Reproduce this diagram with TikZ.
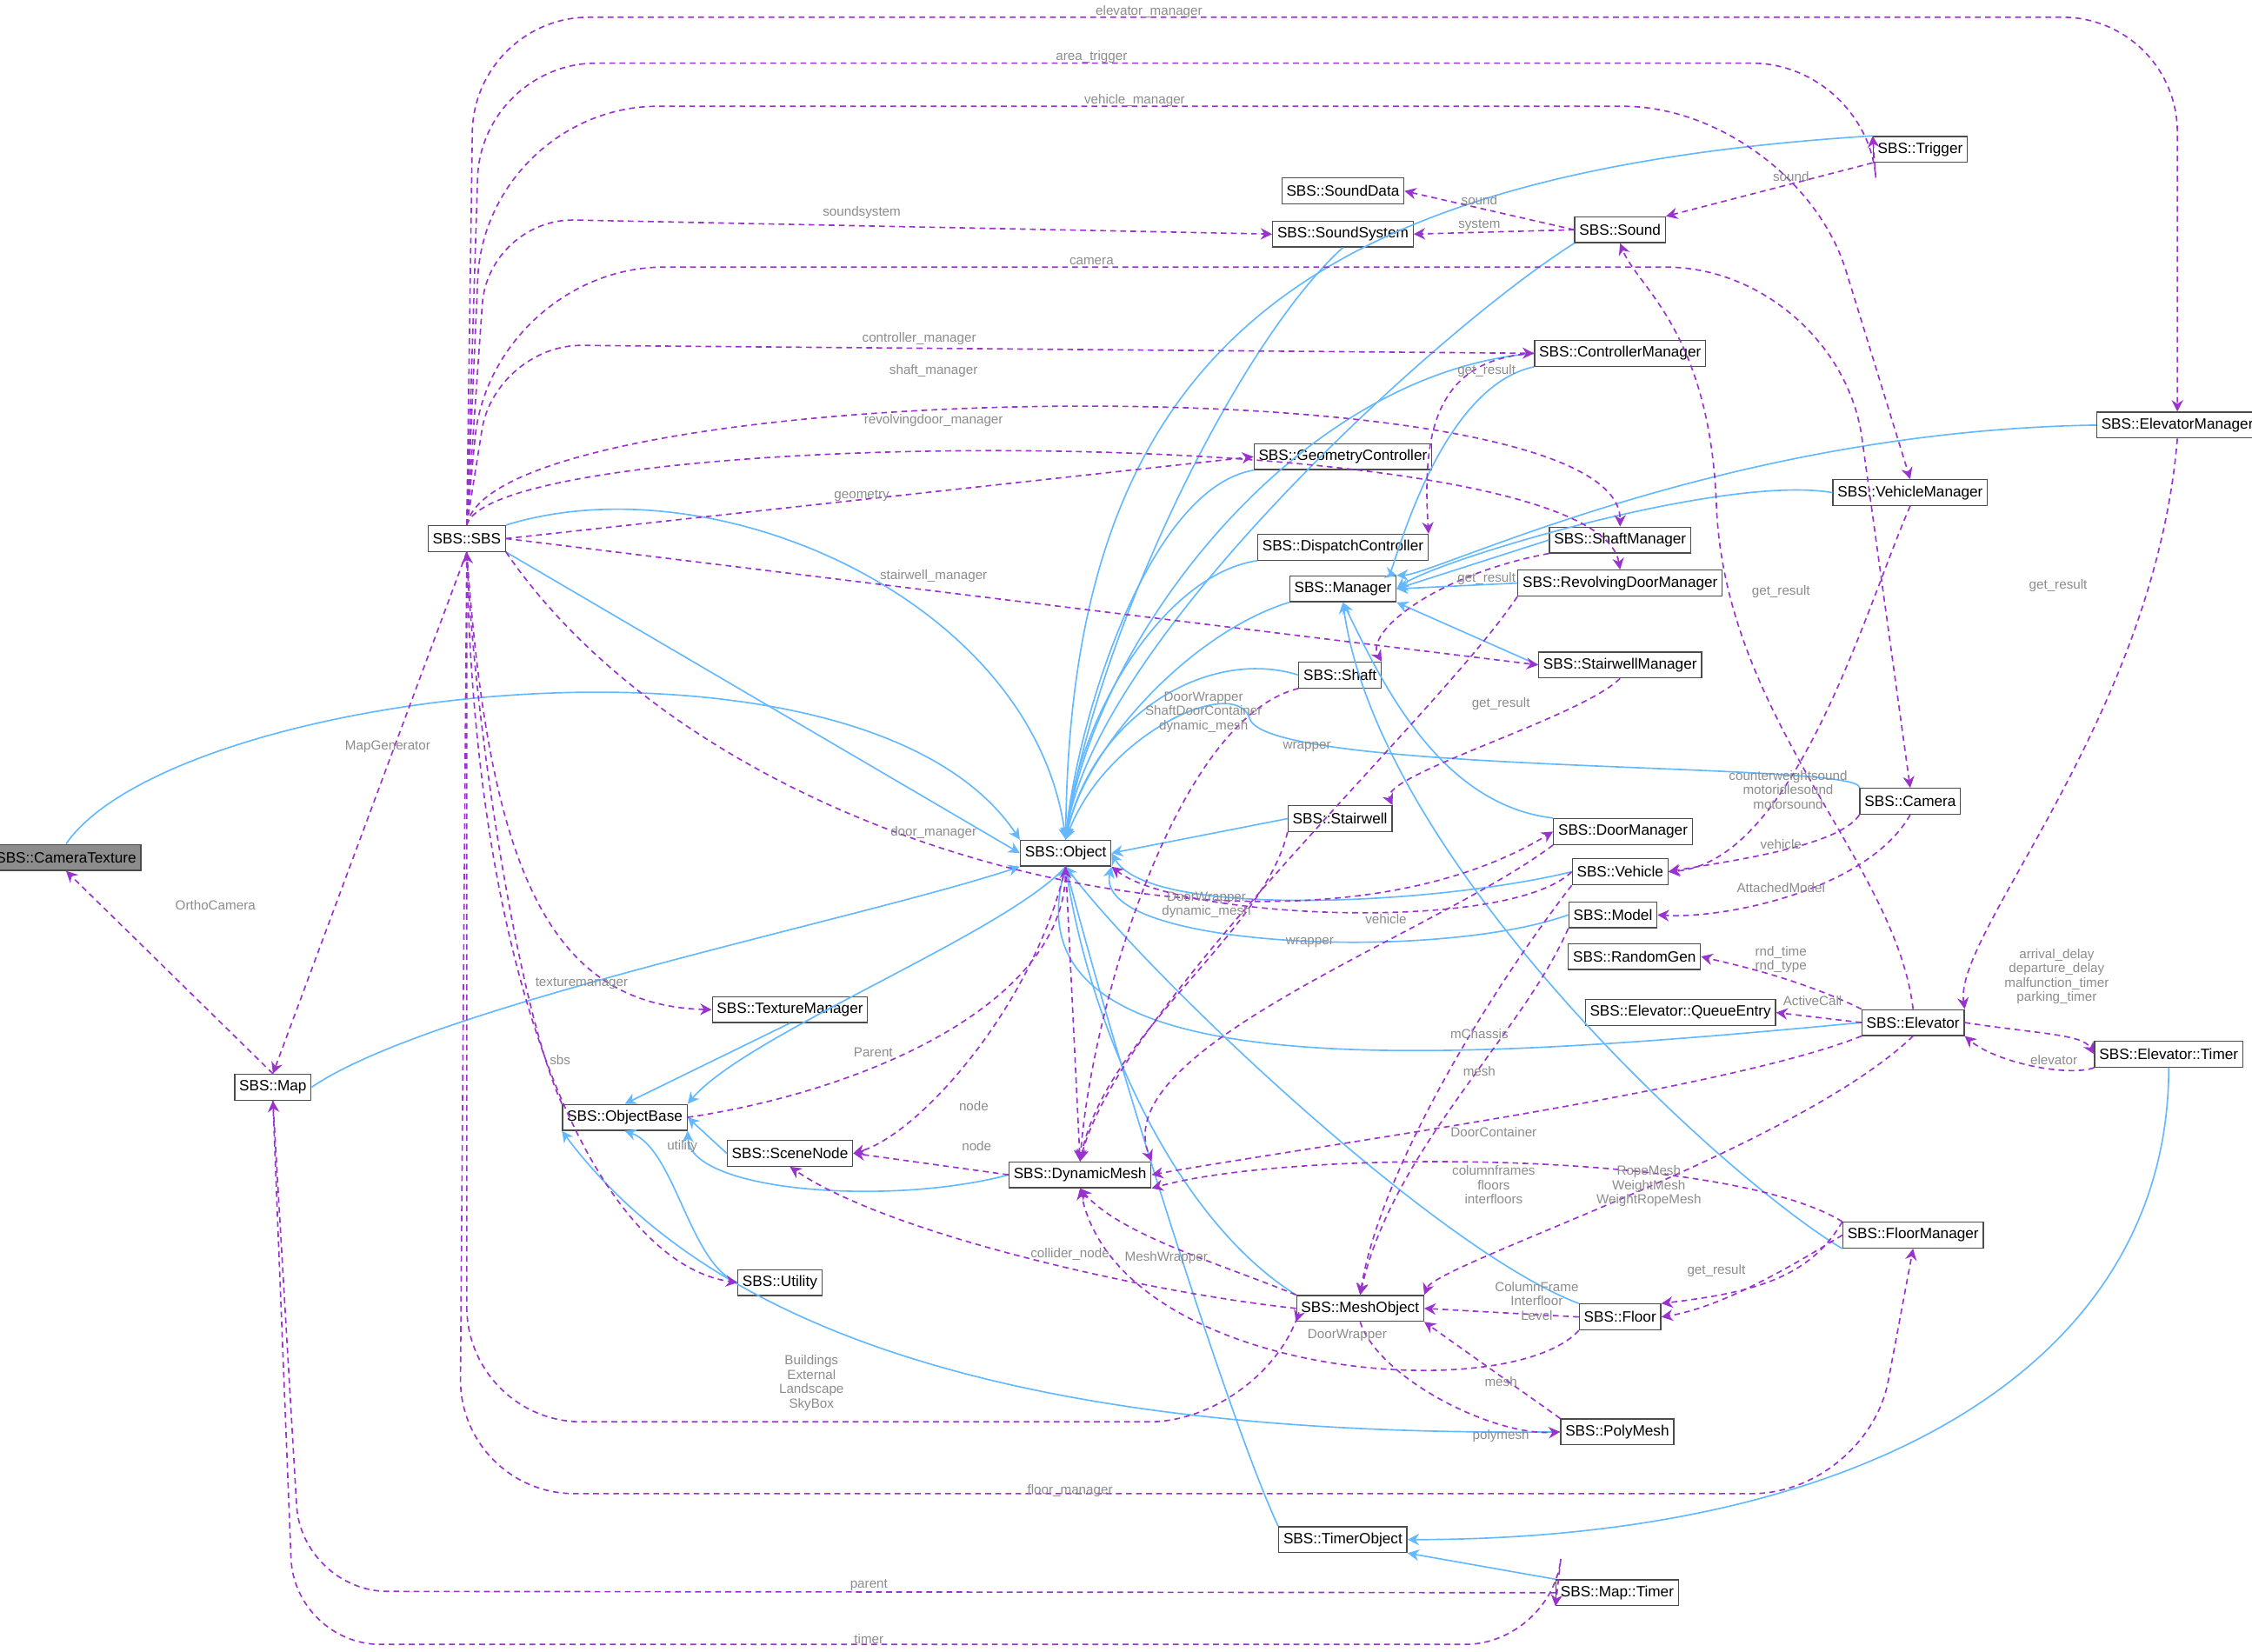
\documentclass[tikz,border=0pt]{standalone}
\usepackage{fontspec}
\setmainfont{Liberation Sans}
\usetikzlibrary{arrows.meta,calc}
\definecolor{inhc}{HTML}{63B8FF}
\definecolor{usec}{HTML}{9A32CD}
\tikzset{
 box/.style={draw=black!70,fill=white,font=\fontsize{5.2}{6}\selectfont,inner sep=1.6pt,minimum height=9pt,line width=0.4pt},
 inh/.style={draw=inhc,line width=0.5pt,-{Stealth[length=4pt,width=4pt]}},
 use/.style={draw=usec,line width=0.5pt,dashed,dash pattern=on 2pt off 1.5pt,-{Stealth[length=4pt,width=4pt]}},
 lbl/.style={text=black!45,font=\fontsize{4.6}{5}\selectfont,align=center,inner sep=0.5pt}
}
\begin{document}
\begin{tikzpicture}[x=0.5pt,y=-0.5pt]
\useasboundingbox (0,0) rectangle (1568,1150);
% nodes
\node[box,fill=black!45] (CT) at (46,597) {SBS::CameraTexture};
\node[box] (SBS) at (325,375) {SBS::SBS};
\node[box] (Map) at (190,757) {SBS::Map};
\node[box] (OB) at (435,778) {SBS::ObjectBase};
\node[box] (SN) at (550,803) {SBS::SceneNode};
\node[box] (TM) at (550,703) {SBS::TextureManager};
\node[box] (UT) at (543,893) {SBS::Utility};
\node[box] (OBJ) at (742,594) {SBS::Object};
\node[box] (DM) at (752,818) {SBS::DynamicMesh};
\node[box] (MO) at (947,911) {SBS::MeshObject};
\node[box] (TO) at (935,1072) {SBS::TimerObject};
\node[box] (MT) at (1126,1109) {SBS::Map::Timer};
\node[box] (PM) at (1126,997) {SBS::PolyMesh};
\node[box] (FL) at (1128,917) {SBS::Floor};
\node[box] (FM) at (1332,860) {SBS::FloorManager};
\node[box] (EL) at (1332,712) {SBS::Elevator};
\node[box] (ET) at (1510,734) {SBS::Elevator::Timer};
\node[box] (RG) at (1138,666) {SBS::RandomGen};
\node[box] (QE) at (1170,705) {SBS::Elevator::QueueEntry};
\node[box] (MD) at (1123,637) {SBS::Model};
\node[box] (VH) at (1128,607) {SBS::Vehicle};
\node[box] (DOM) at (1130,579) {SBS::DoorManager};
\node[box] (SW) at (933,570) {SBS::Stairwell};
\node[box] (CAM) at (1330,558) {SBS::Camera};
\node[box] (SWM) at (1128,463) {SBS::StairwellManager};
\node[box] (SH) at (933,470) {SBS::Shaft};
\node[box] (MG) at (935,410) {SBS::Manager};
\node[box] (RDM) at (1128,406) {SBS::RevolvingDoorManager};
\node[box] (SHM) at (1128,376) {SBS::ShaftManager};
\node[box] (DC) at (935,381) {SBS::DispatchController};
\node[box] (VM) at (1330,343) {SBS::VehicleManager};
\node[box] (EM) at (1516,296) {SBS::ElevatorManager};
\node[box] (GC) at (935,318) {SBS::GeometryController};
\node[box] (CM) at (1128,246) {SBS::ControllerManager};
\node[box] (SS) at (935,163) {SBS::SoundSystem};
\node[box] (SD) at (935,133) {SBS::SoundData};
\node[box] (SO) at (1128,160) {SBS::Sound};
\node[box] (TR) at (1337,104) {SBS::Trigger};

% inheritance
\draw[inh] (CT.north) .. controls (120,480) and (600,420) .. (OBJ.north west);
\draw[inh] (SBS.south east) -- (OBJ.west);
\draw[inh] (SBS.north east) .. controls (500,320) and (720,420) .. (OBJ.north);
\draw[inh] (Map.east) .. controls (300,700) and (600,640) .. (OBJ.south west);
\draw[inh] (OBJ.south) .. controls (700,650) and (520,720) .. (OB.north east);
\draw[inh] (TM.south) -- (OB.north);
\draw[inh] (UT.west) .. controls (480,880) and (470,800) .. (OB.south);
\draw[inh] (SN.west) -- (OB.east);
\draw[inh] (DM.west) .. controls (620,840) and (480,830) .. (OB.south east);
\draw[inh] (PM.west) .. controls (800,1000) and (520,960) .. (OB.south west);
\draw[inh] (TR.north west) .. controls (900,120) and (745,250) .. (OBJ.north);
\draw[inh] (SS.south) .. controls (860,240) and (760,450) .. (OBJ.north);
\draw[inh] (SO.south west) .. controls (1000,230) and (760,450) .. (OBJ.north);
\draw[inh] (CM.west) .. controls (900,260) and (760,450) .. (OBJ.north);
\draw[inh] (GC.south west) .. controls (800,340) and (750,500) .. (OBJ.north);
\draw[inh] (DC.south west) .. controls (810,400) and (750,500) .. (OBJ.north);
\draw[inh] (MG.south west) .. controls (830,440) and (755,520) .. (OBJ.north);
\draw[inh] (SH.west) .. controls (840,450) and (760,500) .. (OBJ.north);
\draw[inh] (CAM.north west) .. controls (1300,530) and (880,540) .. (870,500) .. controls (860,470) and (770,510) .. (OBJ.north);
\draw[inh] (SW.west) -- (OBJ.east);
\draw[inh] (VH.west) .. controls (1000,630) and (800,640) .. (OBJ.east);
\draw[inh] (MD.west) .. controls (1000,670) and (760,660) .. (OBJ.south east);
\draw[inh] (EL.west) .. controls (1000,740) and (700,760) .. (OBJ.south);
\draw[inh] (FL.north west) .. controls (1000,870) and (800,680) .. (OBJ.south);
\draw[inh] (MO.north west) .. controls (820,850) and (760,720) .. (OBJ.south);
\draw[inh] (TO.north west) .. controls (860,1000) and (780,750) .. (OBJ.south);
\draw[inh] (ET.south) .. controls (1510,950) and (1300,1072) .. (TO.east);
\draw[inh] (MT.north west) -- (TO.south east);
\draw[inh] (CM.south west) .. controls (1000,270) and (970,400) .. (MG.north east);
\draw[inh] (EM.west) .. controls (1200,300) and (1000,400) .. (MG.north east);
\draw[inh] (VM.west) .. controls (1200,330) and (1000,390) .. (MG.east);
\draw[inh] (SHM.west) -- (MG.east);
\draw[inh] (RDM.west) -- (MG.east);
\draw[inh] (SWM.west) -- (MG.south east);
\draw[inh] (DOM.north west) .. controls (1000,560) and (960,470) .. (MG.south);
\draw[inh] (FM.south west) .. controls (1200,820) and (960,600) .. (MG.south);

% usage from SBS (top)
\draw[use,rounded corners=40] (SBS.north) -- (330,12) -- (1516,12) -- (EM.north);
\draw[use,rounded corners=40] (SBS.north) -- (335,44) -- (1300,44) -- (TR.north west);
\draw[use,rounded corners=60] (SBS.north) -- (338,74) -- (1250,74) -- (VM.north);
\draw[use,rounded corners=30] (SBS.north) -- (340,152) -- (SS.west);
\draw[use,rounded corners=60] (SBS.north) -- (342,186) -- (1280,186) -- (CAM.north);
\draw[use,rounded corners=30] (SBS.north) -- (345,240) -- (CM.west);
\draw[use] (SBS.north) .. controls (345,262) and (1128,250) .. (SHM.north);
\draw[use] (SBS.north) .. controls (345,295) and (1110,290) .. (RDM.north);
\draw[use] (SBS.east) -- (GC.west);
\draw[use] (SBS.east) -- (SWM.west);
\draw[use] (SBS.south east) .. controls (500,600) and (900,690) .. (DOM.west);
\draw[use] (SBS.south) -- (Map.north);
\draw[use] (SBS.south) .. controls (340,600) and (380,700) .. (TM.west);
\draw[use] (SBS.south) .. controls (330,700) and (420,880) .. (UT.west);
\draw[use,rounded corners=40] (SBS.south) -- (325,990) -- (880,990) -- (MO.south west);
\draw[use,rounded corners=40] (SBS.south) -- (320,1040) -- (1300,1040) -- (FM.south);
\draw[use] (OB.north west) .. controls (360,700) and (330,500) .. (SBS.south);
% others
\draw[use] (Map.north) -- (CT.south);
\draw[use,rounded corners=30] (Map.south) -- (205,1145) -- (1080,1145) -- (MT.south west);
\draw[use,rounded corners=30] (MT.west) -- (210,1108) -- (Map.south);
\draw[use] (OB.east) .. controls (600,760) and (740,700) .. (OBJ.south);
\draw[use] (OBJ.south) .. controls (720,700) and (640,790) .. (SN.east);
\draw[use] (DM.west) -- (SN.east);
\draw[use] (MO.west) .. controls (800,900) and (620,860) .. (SN.south);
\draw[use] (MO.north west) .. controls (850,880) and (780,860) .. (DM.south);
\draw[use] (OBJ.south) -- (DM.north);
\draw[use] (FL.west) -- (MO.east);
\draw[use] (FL.south west) .. controls (1050,980) and (780,960) .. (DM.south);
\draw[use] (MO.south) .. controls (960,960) and (1040,1000) .. (PM.west);
\draw[use] (PM.north west) -- (MO.south east);
\draw[use] (TR.south west) -- (SO.north east);
\draw[use] (SO.west) -- (SD.east);
\draw[use] (SO.west) -- (SS.east);
\draw[use] (CM.west) .. controls (1000,250) and (990,300) .. (DC.north east);
\draw[use] (SHM.south west) .. controls (1000,400) and (950,440) .. (SH.north east);
\draw[use] (VM.south) .. controls (1300,420) and (1250,600) .. (VH.east);
\draw[use] (EM.south) .. controls (1500,500) and (1360,650) .. (EL.north east);
\draw[use] (SWM.south) .. controls (1100,500) and (960,540) .. (SW.north east);
\draw[use] (FM.west) .. controls (1250,880) and (1200,910) .. (FL.east);
\draw[use] (FM.north west) .. controls (1260,890) and (1220,900) .. (FL.north east);
\draw[use] (CAM.south west) .. controls (1280,590) and (1200,600) .. (VH.east);
\draw[use] (CAM.south) .. controls (1300,620) and (1200,640) .. (MD.east);
\draw[use] (EL.north) .. controls (1320,600) and (1200,500) .. (1195,350) .. controls (1190,230) and (1140,200) .. (SO.south);
\draw[use] (EL.north west) .. controls (1250,680) and (1200,670) .. (RG.east);
\draw[use] (EL.west) -- (QE.east);
\draw[use] (EL.east) .. controls (1420,720) and (1450,720) .. (ET.west);
\draw[use] (ET.south west) .. controls (1440,750) and (1390,740) .. (EL.south east);
\draw[use] (EL.south west) .. controls (1200,760) and (900,800) .. (DM.east);
\draw[use] (EL.south) .. controls (1250,800) and (1000,880) .. (MO.north east);
\draw[use] (FM.north west) .. controls (1200,800) and (900,800) .. (DM.south east);
\draw[use] (SH.south west) .. controls (820,500) and (760,700) .. (DM.north);
\draw[use] (RDM.south west) .. controls (1000,500) and (780,700) .. (DM.north);
\draw[use] (SW.south west) .. controls (880,650) and (770,720) .. (DM.north);
\draw[use] (DOM.south west) .. controls (1000,650) and (770,730) .. (DM.north east);
\draw[use] (VH.south west) .. controls (1030,700) and (960,820) .. (MO.north);
\draw[use] (MD.south west) .. controls (1060,720) and (970,800) .. (MO.north);
\draw[use] (VH.west) .. controls (1050,650) and (820,640) .. (OBJ.south east);

% labels
\node[lbl] (l1) at (800,8) {elevator\_manager};
\node[lbl] (l2) at (760,40) {area\_trigger};
\node[lbl] (l3) at (790,70) {vehicle\_manager};
\node[lbl] (l4) at (600,148) {soundsystem};
\node[lbl] (l5) at (760,182) {camera};
\node[lbl] (l6) at (640,236) {controller\_manager};
\node[lbl] (l7) at (650,258) {shaft\_manager};
\node[lbl] (l8) at (650,293) {revolvingdoor\_manager};
\node[lbl] (l9) at (600,345) {geometry};
\node[lbl] (l10) at (650,401) {stairwell\_manager};
\node[lbl] (l11) at (650,580) {door\_manager};
\node[lbl] (l12) at (270,520) {MapGenerator};
\node[lbl] (l13) at (405,685) {texturemanager};
\node[lbl] (l14) at (390,738) {sbs};
\node[lbl] (l15) at (475,798) {utility};
\node[lbl] (l16) at (565,963) {Buildings\\External\\Landscape\\SkyBox};
\node[lbl] (l17) at (745,1038) {floor\_manager};
\node[lbl] (l18) at (150,630) {OrthoCamera};
\node[lbl] (l19) at (605,1104) {parent};
\node[lbl] (l20) at (605,1141) {timer};
\node[lbl] (l21) at (608,733) {Parent};
\node[lbl] (l22) at (678,770) {node};
\node[lbl] (l23) at (680,798) {node};
\node[lbl] (l24) at (745,873) {collider\_node};
\node[lbl] (l25) at (812,876) {MeshWrapper};
\node[lbl] (l26) at (938,930) {DoorWrapper};
\node[lbl] (l27) at (1070,906) {ColumnFrame\\Interfloor\\Level};
\node[lbl] (l28) at (1045,962) {mesh};
\node[lbl] (l29) at (1045,1000) {polymesh};
\node[lbl] (l30) at (1247,123) {sound};
\node[lbl] (l31) at (1030,139) {sound};
\node[lbl] (l32) at (1030,157) {system};
\node[lbl] (l33) at (1035,258) {get\_result};
\node[lbl] (l34) at (1035,403) {get\_result};
\node[lbl] (l35) at (1240,412) {get\_result};
\node[lbl] (l36) at (1433,408) {get\_result};
\node[lbl] (l37) at (1045,490) {get\_result};
\node[lbl] (l38) at (1195,885) {get\_result};
\node[lbl] (l39) at (1240,588) {vehicle};
\node[lbl] (l40) at (1240,618) {AttachedModel};
\node[lbl] (l41) at (1245,550) {counterweightsound\\motoridlesound\\motorsound};
\node[lbl] (l42) at (1240,668) {rnd\_time\\rnd\_type};
\node[lbl] (l43) at (1262,697) {ActiveCall};
\node[lbl] (l44) at (1432,680) {arrival\_delay\\departure\_delay\\malfunction\_timer\\parking\_timer};
\node[lbl] (l45) at (1430,738) {elevator};
\node[lbl] (l46) at (1040,788) {DoorContainer};
\node[lbl] (l47) at (1040,825) {columnframes\\floors\\interfloors};
\node[lbl] (l48) at (1148,826) {RopeMesh\\WeightMesh\\WeightRopeMesh};
\node[lbl] (l49) at (838,496) {DoorWrapper\\ShaftDoorContainer\\dynamic\_mesh};
\node[lbl] (l50) at (910,520) {wrapper};
\node[lbl] (l51) at (840,630) {DoorWrapper\\dynamic\_mesh};
\node[lbl] (l52) at (912,656) {wrapper};
\node[lbl] (l53) at (965,640) {vehicle};
\node[lbl] (l54) at (1030,720) {mChassis};
\node[lbl] (l55) at (1030,746) {mesh};
\end{tikzpicture}
\end{document}
